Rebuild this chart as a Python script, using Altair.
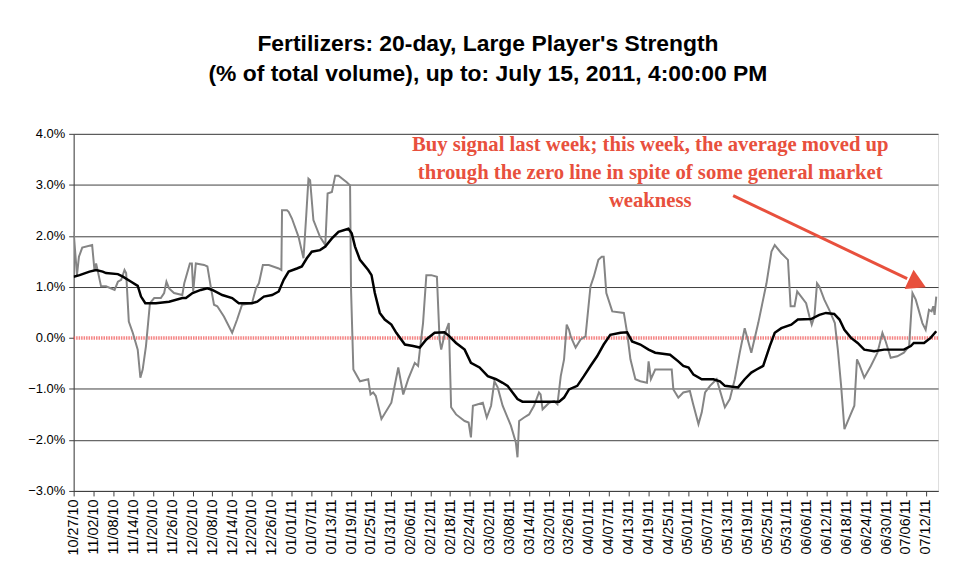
import altair as alt
import pandas as pd

START = "2010-10-27"

# raw series (grey): day offset from 10/27/10, value in %
raw_days = [0, 1, 1.6, 2.6, 5.6, 6.3, 6.8, 8.3, 9.8, 12.4, 13.4, 14.4, 15.4, 15.9, 16.7, 17.9,
            19.4, 20.2, 20.9, 21.9, 23.1, 24.4, 26.4, 27.4, 28.1, 28.9, 30.4, 32.9, 33.5, 35.2,
            35.8, 36.2, 37.0, 39.5, 40.5, 41.5, 42.5, 43.5, 45.5, 48.0, 49.5, 51.0, 54.0, 55.2,
            56.1, 57.3, 59.1, 62.1, 62.9, 63.1, 64.6, 65.1, 66.1, 68.1, 69.6, 70.4, 71.1, 71.6,
            72.6, 74.6, 76.2, 76.9, 78.2, 79.2, 80.2, 82.7, 83.7, 84.0, 84.7, 86.7, 89.2, 89.9,
            90.7, 91.5, 93.2, 96.2, 98.3, 99.8, 101.3, 103.3, 104.3, 104.8, 105.8, 106.8, 108.3,
            110.0, 110.8, 111.3, 112.3, 113.6, 113.8, 114.3, 115.8, 118.4, 119.6, 120.3, 120.9,
            123.9, 125.1, 126.4, 127.4, 128.4, 129.9, 132.4, 133.9, 134.4, 134.9, 136.4, 137.9,
            139.4, 140.9, 141.4, 142.0, 144.0, 145.5, 146.5, 147.5, 148.5, 149.3, 150.0, 150.5,
            152.0, 153.5, 155.0, 156.5, 157.5, 158.9, 159.9, 160.5, 161.3, 163.1, 166.6, 167.6,
            168.6, 170.1, 171.6, 173.6, 174.1, 174.8, 176.1, 181.1, 181.6, 183.1, 184.6, 186.6,
            187.6, 189.2, 190.2, 191.2, 192.7, 194.7, 197.2, 198.7, 200.2, 201.7, 203.2, 205.2,
            207.3, 209.8, 211.3, 212.3, 214.3, 216.3, 217.1, 218.3, 219.1, 220.3, 221.8, 222.8,
            223.5, 224.3, 225.1, 225.8, 227.3, 228.8, 230.5, 231.4, 232.4, 233.4, 234.9, 236.4,
            237.2, 237.9, 239.4, 241.4, 243.4, 244.9, 245.9, 247.4, 249.4, 251.4, 253.0, 254.0,
            255.0, 257.0, 258.0, 259.0, 259.8, 260.3, 260.7, 261.2]
raw_vals = [2.08, 1.23, 1.59, 1.77, 1.82, 1.33, 1.46, 1.01, 1.01, 0.94, 1.10, 1.14, 1.33, 1.27, 0.32, 0.10,
            -0.23, -0.78, -0.62, -0.16, 0.68, 0.78, 0.78, 0.88, 1.10, 0.97, 0.88, 0.84, 1.07, 1.46,
            1.46, 0.91, 1.46, 1.43, 1.40, 1.01, 0.65, 0.62, 0.42, 0.10, 0.36, 0.65, 0.68, 0.97,
            1.07, 1.43, 1.43, 1.36, 1.33, 2.50, 2.50, 2.47, 2.34, 1.98, 1.56, 2.37, 3.12, 3.09,
            2.31, 1.98, 1.82, 2.83, 2.86, 3.18, 3.18, 3.05, 2.99, 0.94, -0.62, -0.85, -0.81, -1.11,
            -1.07, -1.14, -1.59, -1.27, -0.58, -1.11, -0.81, -0.49, -0.55, -0.26, 0.29, 1.23, 1.23,
            1.20, -0.03, -0.23, 0.06, 0.29, -0.16, -1.36, -1.50, -1.63, -1.66, -1.95, -1.33,
            -1.27, -1.56, -1.33, -0.85, -0.97, -1.33, -1.72, -2.05, -2.34, -1.63, -1.56, -1.50,
            -1.33, -1.07, -1.11, -1.40, -1.27, -1.24, -1.30, -0.75, -0.42, 0.26, 0.16, 0.03,
            -0.19, -0.03, 0.03, 1.01, 1.20, 1.53, 1.59, 1.59, 0.88, 0.52, 0.49, 0.10,
            -0.42, -0.81, -0.85, -0.88, -0.46, -0.81, -0.62, -0.62, -1.01, -1.17, -1.07, -1.04,
            -1.30, -1.69, -1.46, -1.07, -0.94, -0.81, -1.36, -1.20, -0.81, -0.29, 0.19, -0.29,
            0.29, 1.07, 1.69, 1.82, 1.66, 1.53, 0.62, 0.62, 0.91, 0.81, 0.68, 0.42,
            0.26, 0.42, 1.07, 1.01, 0.75, 0.55, 0.29, -0.23, -0.94, -1.79, -1.56, -1.33,
            -0.42, -0.52, -0.78, -0.55, -0.29, 0.10, -0.07, -0.39, -0.36, -0.29, -0.16, 0.88,
            0.75, 0.29, 0.16, 0.55, 0.52, 0.62, 0.45, 0.81]

# 20-day average (black)
avg_days = [0, 1.8, 4.8, 6.8, 8.8, 9.8, 13.4, 14.9, 17.4, 19.4, 20.4, 21.7, 24.9, 28.9, 32.9, 34.0,
            36.0, 38.5, 40.5, 42.0, 45.0, 48.0, 50.0, 54.0, 55.6, 57.6, 60.1, 62.1, 63.6, 65.1,
            67.6, 69.1, 70.6, 72.1, 74.6, 76.2, 78.2, 80.2, 83.2, 84.2, 85.2, 86.7, 89.2, 90.2,
            91.2, 92.7, 94.2, 96.2, 97.7, 100.3, 102.8, 104.8, 106.8, 109.3, 112.3, 113.8, 115.8,
            118.4, 120.3, 122.9, 125.4, 127.9, 129.9, 131.4, 134.4, 135.9, 147.0, 148.5, 150.0,
            152.5, 154.5, 156.5, 158.5, 160.5, 162.5, 165.6, 167.6, 169.1, 171.6, 174.1, 176.1,
            180.6, 183.1, 184.6, 186.2, 187.7, 190.2, 193.7, 195.7, 197.2, 201.2, 203.2, 205.2,
            206.8, 208.8, 210.8, 212.3, 214.3, 217.3, 219.3, 223.3, 225.8, 227.8, 230.3, 231.9,
            233.4, 235.4, 237.4, 239.4, 242.4, 245.4, 251.4, 253.5, 254.4, 257.5, 259.5, 261.2]
avg_vals = [1.20, 1.23, 1.30, 1.33, 1.30, 1.27, 1.25, 1.20, 1.10, 1.02, 0.81, 0.68, 0.68, 0.71, 0.78, 0.78,
            0.88, 0.94, 0.97, 0.94, 0.84, 0.78, 0.68, 0.68, 0.71, 0.81, 0.84, 0.91, 1.14, 1.30,
            1.36, 1.40, 1.56, 1.69, 1.72, 1.79, 1.95, 2.08, 2.14, 2.05, 1.79, 1.53, 1.33, 1.23,
            0.88, 0.49, 0.36, 0.26, 0.10, -0.13, -0.16, -0.19, -0.03, 0.10, 0.11, 0.03, -0.10,
            -0.23, -0.49, -0.58, -0.75, -0.81, -0.88, -0.94, -1.20, -1.25, -1.25, -1.17, -1.01,
            -0.94, -0.75, -0.55, -0.36, -0.13, 0.06, 0.10, 0.11, -0.07, -0.13, -0.23, -0.29,
            -0.33, -0.46, -0.55, -0.58, -0.72, -0.81, -0.81, -0.85, -0.94, -0.97, -0.81, -0.68,
            -0.62, -0.55, -0.16, 0.10, 0.19, 0.26, 0.36, 0.37, 0.45, 0.49, 0.47, 0.36,
            0.16, 0.00, -0.10, -0.23, -0.26, -0.23, -0.23, -0.16, -0.10, -0.10, 0.00, 0.13]

tick_labels = ["10/27/10", "11/02/10", "11/08/10", "11/14/10", "11/20/10", "11/26/10", "12/02/10",
               "12/08/10", "12/14/10", "12/20/10", "12/26/10", "01/01/11", "01/07/11", "01/13/11",
               "01/19/11", "01/25/11", "01/31/11", "02/06/11", "02/12/11", "02/18/11", "02/24/11",
               "03/02/11", "03/08/11", "03/14/11", "03/20/11", "03/26/11", "04/01/11", "04/07/11",
               "04/13/11", "04/19/11", "04/25/11", "05/01/11", "05/07/11", "05/13/11", "05/19/11",
               "05/25/11", "05/31/11", "06/06/11", "06/12/11", "06/18/11", "06/24/11", "06/30/11",
               "07/06/11", "07/12/11"]
y_ticks = [-3, -2, -1, 0, 1, 2, 3, 4]

title_lines = ["Fertilizers: 20-day, Large Player's Strength",
               "(% of total volume), up to: July 15, 2011, 4:00:00 PM"]
note_lines = ["Buy signal last week; this week, the average moved up",
              "through the zero line in spite of some general market",
              "weakness"]

# annotation anchors (day offset, value %)
note_pos = [174.6, 3.66]
arrow_days = [199.7, 252.4]
arrow_vals = [2.79, 1.16]
head_pos = [255.5, 1.07]

RED = "#e8503d"


def to_iso(days):
    base = pd.Timestamp(START)
    return [(base + pd.to_timedelta(d, unit="D")).strftime("%Y-%m-%dT%H:%M:%S") for d in days]


def dt(label):
    m, d, y = label.split("/")
    return alt.DateTime(year=2000 + int(y), month=int(m), date=int(d))


raw = pd.DataFrame({"date": to_iso(raw_days), "value": raw_vals, "order": list(range(len(raw_days)))})
avg = pd.DataFrame({"date": to_iso(avg_days), "value": avg_vals, "order": list(range(len(avg_days)))})
arrow = pd.DataFrame({"date": to_iso(arrow_days), "value": arrow_vals})
head = pd.DataFrame({"date": to_iso([head_pos[0]]), "value": [head_pos[1]]})
note = pd.DataFrame({"date": to_iso([note_pos[0]]), "value": [note_pos[1]]})
zero = pd.DataFrame({"value": [0]})

x_scale = alt.Scale(domain=[dt(tick_labels[0]), alt.DateTime(year=2011, month=7, date=15, hours=18)])
y_scale = alt.Scale(domain=[min(y_ticks), max(y_ticks)], nice=False)

x_axis = alt.Axis(values=[dt(t) for t in tick_labels], format="%m/%d/%y", labelAngle=270,
                  labelFontSize=14.5, labelFont="Liberation Sans", labelColor="black",
                  labelFlush=False, labelOverlap=False, labelPadding=3, labelSeparation=0,
                  labelBound=False,
                  tickSize=5, tickColor="#404040", domainColor="#404040", grid=False, title=None)
y_axis = alt.Axis(values=y_ticks, labelExpr="format(datum.value, '.1f') + '%'",
                  labelFontSize=13, labelFont="Liberation Sans", labelColor="black", labelPadding=4,
                  tickSize=5, tickColor="#404040", domainColor="#404040",
                  grid=True, gridColor={"condition": {"test": "datum.value === 0", "value": "transparent"},
                                        "value": "#404040"},
                  gridWidth=1, gridOpacity=1, title=None)

X = alt.X("date:T", scale=x_scale, axis=x_axis)
Y = alt.Y("value:Q", scale=y_scale, axis=y_axis)

raw_line = alt.Chart(raw).mark_line(color="#858585", strokeWidth=2, clip=True).encode(
    x=X, y=Y, order="order:Q")

zero_line = alt.Chart(zero).mark_rule(color="#f05a5a", strokeWidth=3.5, strokeDash=[1.5, 1],
                                      opacity=0.75).encode(y=Y)

avg_line = alt.Chart(avg).mark_line(color="black", strokeWidth=2.5, clip=True).encode(
    x=X, y=Y, order="order:Q")

arrow_line = alt.Chart(arrow).mark_line(color=RED, strokeWidth=3).encode(x=X, y=Y)

arrow_head = alt.Chart(head).mark_point(shape="triangle-right", filled=True, color=RED, opacity=1,
                                        size=460).encode(x=X, y=Y, angle=alt.value(25))

note_text = alt.Chart(note).mark_text(text=note_lines, align="center", baseline="alphabetic",
                                      lineHeight=28.3, font="Liberation Serif", fontWeight="bold",
                                      fontSize=20.8, color=RED).encode(x=X, y=Y)

chart = alt.layer(zero_line, raw_line, avg_line, arrow_line, arrow_head, note_text).properties(
    width=869, height=359,
    padding={"left": 66, "top": 125, "right": 10, "bottom": 82},
    autosize="none",
    title=alt.TitleParams(text=title_lines, fontSize=23, font="Liberation Sans", fontWeight="bold",
                          color="black", lineHeight=30, anchor="middle", frame="group", offset=42, dx=-18),
).configure_view(stroke="#404040", strokeWidth=1).configure(background="white")

chart.save("out.html", embed_options={"renderer": "svg", "actions": False})
